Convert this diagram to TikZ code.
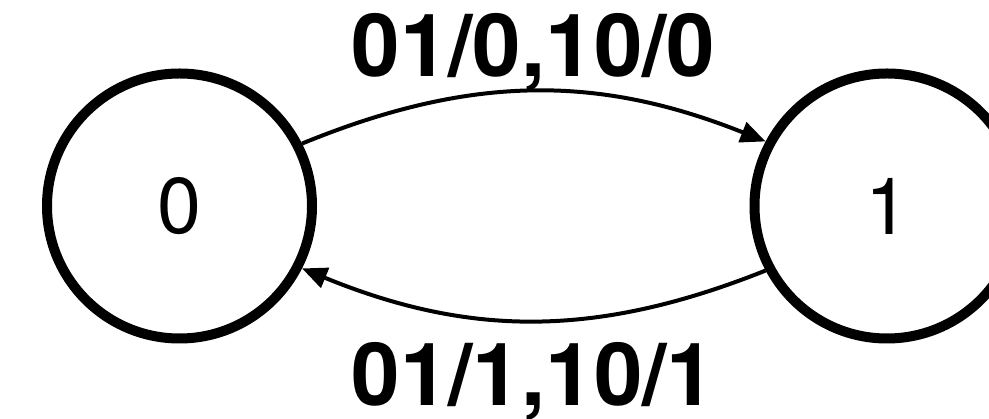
\documentclass[tikz,border=0pt]{standalone}
\usepackage{fontspec}
\setsansfont{TeX Gyre Heros}
\usetikzlibrary{arrows.meta}
\begin{document}
\begin{tikzpicture}[
    state/.style={draw, circle, line width=0.2cm, minimum size=5.3cm, font=\sffamily\fontsize{45}{54}\selectfont},
    lbl/.style={font=\sffamily\bfseries\fontsize{49.6}{60}\selectfont},
    trans/.style={-{Triangle[length=0.5cm,width=0.42cm]}, line width=0.08cm}
]
    \useasboundingbox (-3.59,-4.26) rectangle (16.19,4.12);

    % Nodes
    \node[state] (q0) at (0,0) {0};
    \node[state, right of=q0, node distance=14.15cm] (q1) {1};

    % Arrows
    \draw[trans] (q0.27.6) to[bend left=22] node[lbl, anchor=base, yshift=0.3cm] {01/0,10/0} (q1.152.4);
    \draw[trans] (q1.-152.4) to[bend left=22] node[lbl, anchor=base, yshift=-1.7cm] {01/1,10/1} (q0.-27.6);
\end{tikzpicture}
\end{document}
